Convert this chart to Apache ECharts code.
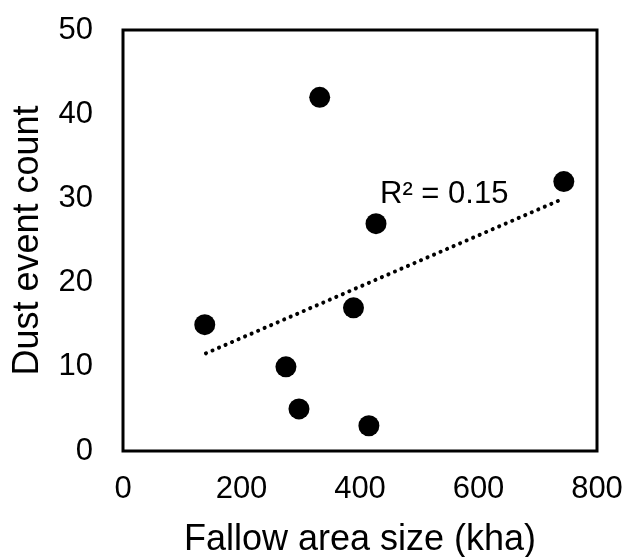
<!DOCTYPE html>
<html>
<head>
<meta charset="utf-8">
<script src="https://cdn.jsdelivr.net/npm/echarts@6/dist/echarts.min.js"></script>
<style>
html, body { margin: 0; padding: 0; background: #fff; }
#main { width: 625px; height: 557px; }
</style>
</head>
<body>
<div id="main"></div>
<script>
// fallow area (kha) vs dust event count
var fallowArea = [138, 332, 275, 297, 389, 427, 415, 744];
var dustCount = [15, 42, 10, 5, 17, 27, 3, 32];
// linear trendline ends
var trendX = [140, 744];
var trendY = [11.6, 30];
var xTicks = [0, 200, 400, 600, 800];
var yTicks = [0, 10, 20, 30, 40, 50];
var r2Label = 'R² = 0.15';

var font = 'Liberation Sans, Arial, sans-serif';
var points = fallowArea.map(function(v, i) { return [v, dustCount[i]]; });
var trend = trendX.map(function(v, i) { return [v, trendY[i]]; });

var myChart = echarts.init(document.getElementById('main'));
var option = {
	animation: false,
	grid: {
		left: 123,
		right: 28,
		top: 30,
		bottom: 106,
		outerBoundsMode: 'none',
		containLabel: false,
		show: true,
		borderColor: '#000',
		borderWidth: 3
	},
	xAxis: {
		type: 'value',
		min: xTicks[0],
		max: xTicks[xTicks.length - 1],
		interval: 200,
		name: 'Fallow area size (kha)',
		nameLocation: 'middle',
		nameGap: 71,
		nameTextStyle: { fontSize: 36, color: '#000', fontFamily: font },
		axisLine: { show: false },
		axisTick: { show: false },
		splitLine: { show: false },
		axisLabel: { fontSize: 31, color: '#000', fontFamily: font, margin: 23 }
	},
	yAxis: {
		type: 'value',
		min: yTicks[0],
		max: yTicks[yTicks.length - 1],
		interval: 10,
		name: 'Dust event count',
		nameLocation: 'middle',
		nameGap: 77,
		nameTextStyle: { fontSize: 36, color: '#000', fontFamily: font },
		axisLine: { show: false },
		axisTick: { show: false },
		splitLine: { show: false },
		axisLabel: { fontSize: 31, color: '#000', fontFamily: font, margin: 30 }
	},
	graphic: [{
		type: 'text',
		left: 380,
		top: 179,
		style: { text: r2Label, fontSize: 31, fill: '#000', fontFamily: font }
	}],
	series: [{
			type: 'line',
			data: trend,
			symbol: 'none',
			lineStyle: { color: '#000', width: 4, type: [0.1, 7], cap: 'round' },
			z: 1
		},
		{
			type: 'scatter',
			data: points,
			symbolSize: 21,
			itemStyle: { color: '#000', opacity: 1 },
			z: 2
		}
	]
};
myChart.setOption(option);
</script>
</body>
</html>
